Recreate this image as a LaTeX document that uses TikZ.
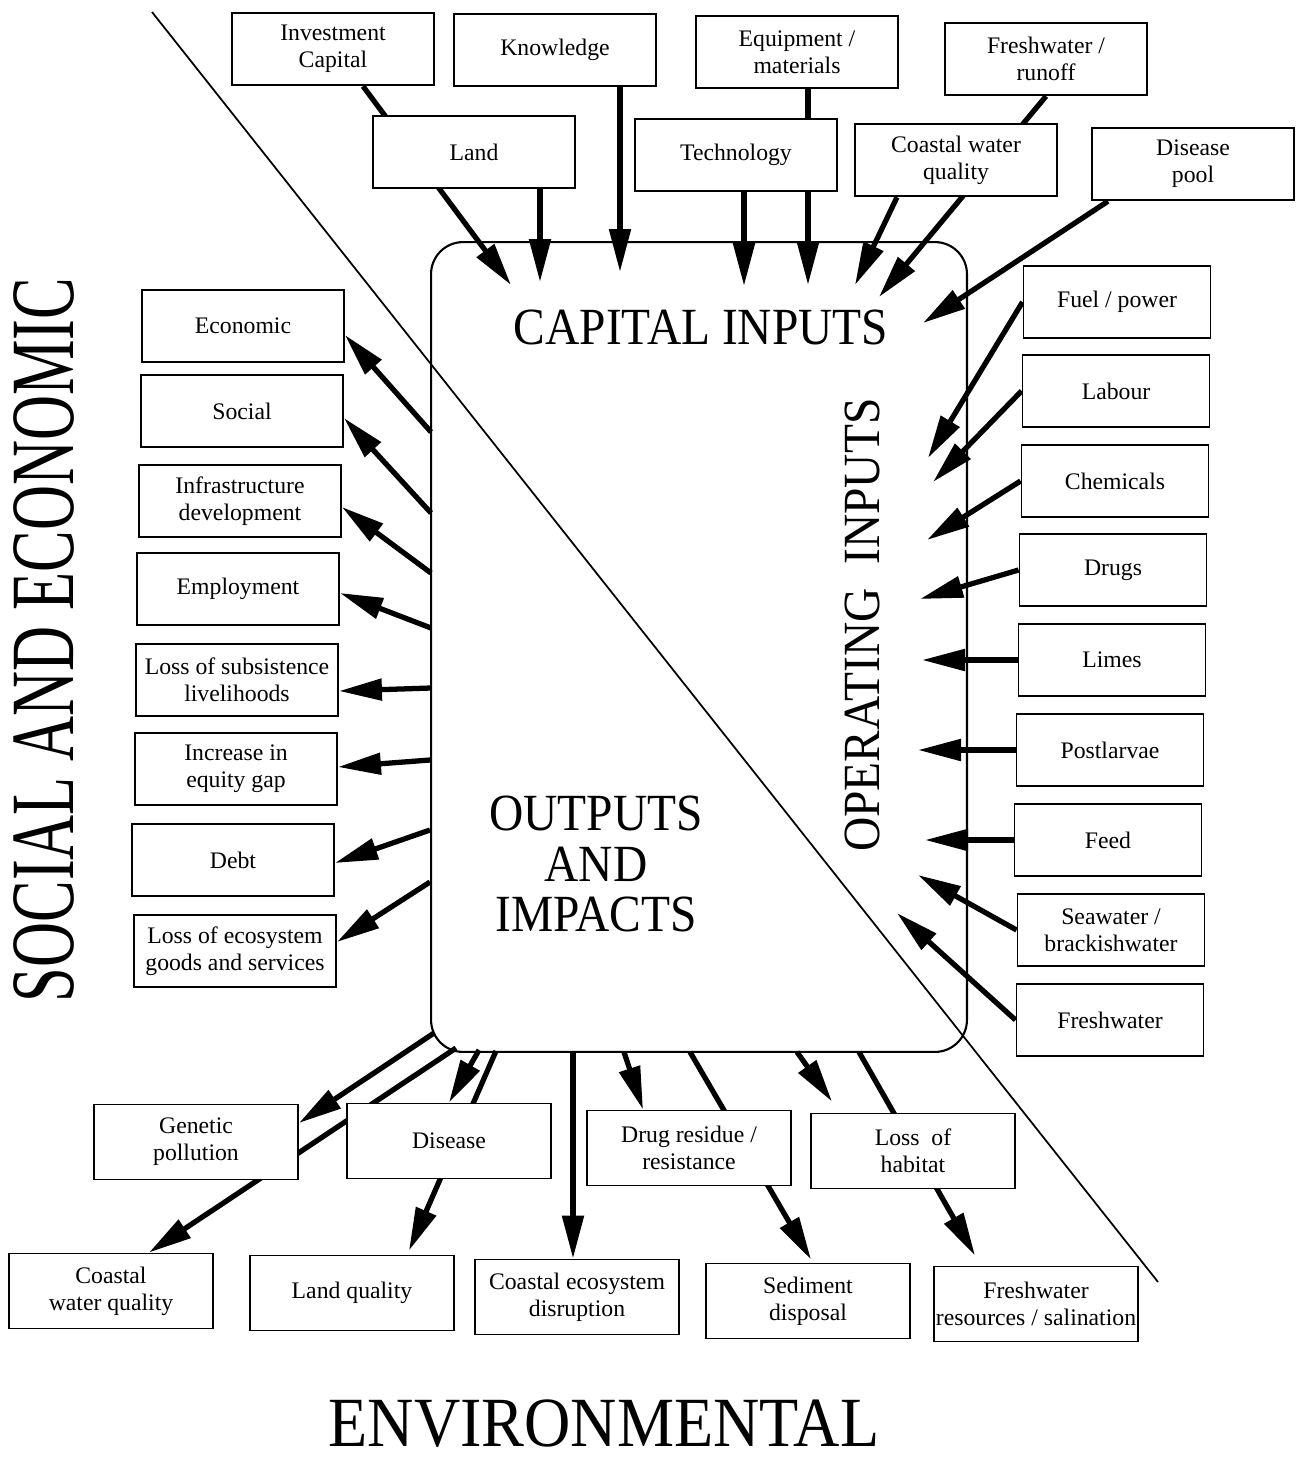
\documentclass[tikz,border=0pt]{standalone}
\usepackage{fontspec}
\setmainfont{Liberation Serif}
\usetikzlibrary{arrows.meta, calc, backgrounds}

\begin{document}
\begin{tikzpicture}[
    x=0.02cm, y=-0.02cm,
    item/.style={rectangle, draw, line width=1.1pt, fill=white, minimum width=4.04cm, minimum height=1.45cm, inner sep=1pt, align=center, font=\fontsize{13.5}{15.5}\selectfont},
    inbox/.style={item, minimum width=3.74cm},
    outbox/.style={item, minimum width=4.08cm, minimum height=1.5cm},
    flow/.style={-{Triangle[length=0.86cm, width=0.42cm]}, line width=3pt},
    heading/.style={font=\fontsize{27}{26}\selectfont, align=center, inner sep=0, yscale=1.1, transform shape},
    region/.style={font=\fontsize{35.5}{40}\selectfont, inner sep=0, transform shape}
]
\useasboundingbox (0,0) rectangle (1303,1458);

% the farm itself
\node[draw, line width=1.2pt, rounded corners=0.64cm, minimum width=10.72cm, minimum height=16.2cm, inner sep=0] (core) at (699,647) {};

\node[heading] (capital) at (701,327) {CAPITAL INPUTS};
\node[rotate=90, heading] (operating) at (862,625) {OPERATING\ \ INPUTS};
\node[heading] (outputs) at (596,864) {OUTPUTS\\AND\\IMPACTS};

\node[rotate=90, region, yscale=1.45] (socio) at (44,640) {SOCIAL AND ECONOMIC};
\node[region, yscale=1.1, font=\fontsize{36.5}{40}\selectfont] (enviro) at (604,1424) {ENVIRONMENTAL};

% capital inputs
\node[item] (inv) at (333,49) {Investment\\Capital};
\node[item] (know) at (555,50) {Knowledge};
\node[item] (equip) at (797,52) {Equipment /\\materials};
\node[item] (runoff) at (1046,59) {Freshwater /\\runoff};
\node[item] (land) at (474,152) {Land};
\node[item] (tech) at (736,155) {Technology};
\node[item] (cwq) at (956,160) {Coastal water\\quality};
\node[item] (pool) at (1193,164) {Disease\\pool};

% operating inputs
\node[inbox] (fuel) at (1117,302) {Fuel / power};
\node[inbox] (labour) at (1116,391) {Labour};
\node[inbox] (chem) at (1115,481) {Chemicals};
\node[inbox] (drugs) at (1113,570) {Drugs};
\node[inbox] (limes) at (1112,660) {Limes};
\node[inbox] (post) at (1110,750) {Postlarvae};
\node[inbox] (feed) at (1108,840) {Feed};
\node[inbox] (sea) at (1111,930) {Seawater /\\brackishwater};
\node[inbox] (fresh) at (1110,1020) {Freshwater};

% social and economic outputs
\node[item] (econ) at (243,326) {Economic};
\node[item] (soc) at (242,411) {Social};
\node[item] (infra) at (240,501) {Infrastructure\\development};
\node[item] (empl) at (238,589) {Employment};
\node[item] (subs) at (237,680) {Loss of subsistence\\livelihoods};
\node[item] (equity) at (236,769) {Increase in\\equity gap};
\node[item] (debt) at (233,860) {Debt};
\node[item] (goods) at (235,951) {Loss of ecosystem\\goods and services};

% environmental outputs
\node[outbox] (genetic) at (196,1142) {Genetic\\pollution};
\node[outbox] (disease) at (449,1141) {Disease};
\node[outbox] (residue) at (689,1148) {Drug residue /\\resistance};
\node[outbox] (habitat) at (913,1151) {Loss\ \ of\\habitat};
\node[outbox] (coastwq) at (111,1291) {Coastal\\water quality};
\node[outbox] (landq) at (352,1293) {Land quality};
\node[outbox] (coasteco) at (577,1297) {Coastal ecosystem\\disruption};
\node[outbox] (sediment) at (808,1301) {Sediment\\disposal};
\node[outbox] (freshres) at (1036,1304) {Freshwater\\resources / salination};

% arrow ends on the farm
\coordinate (ci1) at (511,285);
\coordinate (ci2) at (540,282);
\coordinate (ci3) at (620,272);
\coordinate (ci4) at (808,285);
\coordinate (ci5) at (744,286);
\coordinate (ci6) at (879,297);
\coordinate (ci7) at (855,285);
\coordinate (ci8) at (923,323);

\coordinate (oi1) at (928,458);
\coordinate (oi2) at (933,482);
\coordinate (oi3) at (927,540);
\coordinate (oi4) at (920,599);
\coordinate (oi5) at (922,660);
\coordinate (oi6) at (918,750);
\coordinate (oi7) at (925,840);
\coordinate (oi8) at (918,875);
\coordinate (oi9) at (897,913);

\coordinate (so1) at (431,432);
\coordinate (so2) at (431,513);
\coordinate (so3) at (431,573);
\coordinate (so4) at (431,628);
\coordinate (so5) at (431,688);
\coordinate (so6) at (430,760);
\coordinate (so7) at (430,830);
\coordinate (so8) at (430,882);

\coordinate (eo1) at (434,1033);
\coordinate (eo2) at (456,1048);
\coordinate (eo3) at (479,1050);
\coordinate (eo4) at (496,1051);
\coordinate (eo5) at (573,1052);
\coordinate (eo6) at (624,1052);
\coordinate (eo7) at (690,1052);
\coordinate (eo8) at (797,1052);
\coordinate (eo9) at (859,1052);

\coordinate (split1) at (152,12);
\coordinate (split2) at (1158,1282);

\begin{pgfonlayer}{background}
\draw[line width=1pt] (split1) -- (split2);

\draw[flow] ($(inv.south)+(30,0)$) -- (ci1);
\draw[flow] (land.south -| ci2) -- (ci2);
\draw[flow] (know.south -| ci3) -- (ci3);
\draw[flow] (equip.south -| ci4) -- (ci4);
\draw[flow] (tech.south -| ci5) -- (ci5);
\draw[flow] (runoff.south) -- (ci6);
\draw[flow] ($(cwq.south)+(-59,0)$) -- (ci7);
\draw[flow] ($(pool.south)+(-85,0)$) -- (ci8);

\draw[flow] (fuel.west) -- (oi1);
\draw[flow] (labour.west) -- (oi2);
\draw[flow] (chem.west) -- (oi3);
\draw[flow] (drugs.west) -- (oi4);
\draw[flow] (limes.west) -- (oi5);
\draw[flow] (post.west) -- (oi6);
\draw[flow] (feed.west) -- (oi7);
\draw[flow] (sea.west) -- (oi8);
\draw[flow] (fresh.west) -- (oi9);

\draw[flow] (so1) -- ($(econ.east)+(0,9)$);
\draw[flow] (so2) -- ($(soc.east)+(0,7)$);
\draw[flow] (so3) -- ($(infra.east)+(0,6)$);
\draw[flow] (so4) -- ($(empl.east)+(0,4)$);
\draw[flow] (so5) -- ($(subs.east)+(0,11)$);
\draw[flow] (so6) -- ($(equity.east)+(0,-2)$);
\draw[flow] (so7) -- ($(debt.east)+(0,3)$);
\draw[flow] (so8) -- ($(goods.east)+(0,-9)$);

\draw[flow] (eo1) -- ($(genetic.east)+(0,-19)$);
\draw[flow] (eo2) -- ($(coastwq.north)+(38,0)$);
\draw[flow] (eo3) -- (disease.north);
\draw[flow] (eo4) -- ($(landq.north)+(57,-4)$);
\draw[flow] (eo5) -- (eo5 |- coasteco.north);
\draw[flow] (eo6) -- ($(residue.north)+(-46,0)$);
\draw[flow] (eo7) -- ($(sediment.north)+(3,-3)$);
\draw[flow] (eo8) -- ($(habitat.north)+(-81,-11)$);
\draw[flow] (eo9) -- ($(freshres.north)+(-61,-10)$);
\end{pgfonlayer}

\end{tikzpicture}
\end{document}
